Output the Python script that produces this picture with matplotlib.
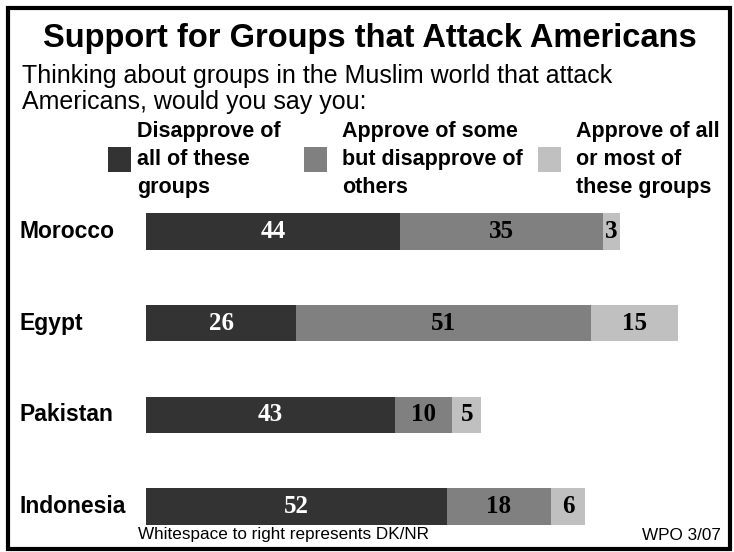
import matplotlib
matplotlib.use("Agg")
import matplotlib.pyplot as plt
from matplotlib.patches import Rectangle

countries = ["Morocco", "Egypt", "Pakistan", "Indonesia"]
disapprove_all = [44, 26, 43, 52]
approve_some = [35, 51, 10, 18]
approve_all = [3, 15, 5, 6]
series_labels = [["Disapprove of", "all of these", "groups"],
                 ["Approve of some", "but disapprove of", "others"],
                 ["Approve of all", "or most of", "these groups"]]
colors = ["#333333", "#808080", "#c0c0c0"]
text_colors = ["white", "black", "black"]

sans = "Liberation Sans"
serif = "Liberation Serif"

W, H = 734, 552
fig = plt.figure(figsize=(W / 100, H / 100), dpi=100)


def fx(px):
    return px / W


def fy(py):
    return 1 - py / H


# border
fig.patches.append(Rectangle((fx(8), fy(549)), fx(730) - fx(8), fy(8) - fy(549),
                             transform=fig.transFigure, fill=False, lw=3, ec="black"))

fig.text(fx(370), fy(38), "Support for Groups that Attack Americans", ha="center", va="center",
         fontsize=23.5, fontweight="bold", family=sans)
fig.text(fx(22), fy(76), "Thinking about groups in the Muslim world that attack", ha="left", va="center",
         fontsize=18, family=sans)
fig.text(fx(22), fy(102), "Americans, would you say you:", ha="left", va="center",
         fontsize=18, family=sans)

# legend
sq_x = [108, 304, 538]
tx_x = [137, 342, 576]
line_y = [132, 159.5, 187]
for i in range(3):
    fig.patches.append(Rectangle((fx(sq_x[i]), fy(172)), fx(23), 25 / H,
                                 transform=fig.transFigure, fc=colors[i], ec="none"))
    for ly, line in zip(line_y, series_labels[i]):
        fig.text(fx(tx_x[i]), fy(ly), line, ha="left", va="center",
                 fontsize=15.5, fontweight="bold", family=sans)

# bars
ax = fig.add_axes([fx(146), fy(552.5), 578 / W, 367 / H])
ax.set_xlim(0, 100)
ax.set_ylim(3.5, -0.5)
ax.axis("off")
ypos = list(range(len(countries)))
left = [0] * len(countries)
for vals, c, tc in zip([disapprove_all, approve_some, approve_all], colors, text_colors):
    ax.barh(ypos, vals, left=left, height=0.40, color=c, edgecolor="none")
    for y, v, l in zip(ypos, vals, left):
        ax.text(l + v / 2, y, str(v), ha="center", va="center", color=tc,
                fontsize=18, fontweight="bold", family=serif)
    left = [a + b for a, b in zip(left, vals)]

for y, name in zip(ypos, countries):
    ax.text(-127 / 5.78, y, name, ha="left", va="center", fontsize=16.5, fontweight="bold", family=sans)

fig.text(fx(138), fy(535), "Whitespace to right represents DK/NR", ha="left", va="center",
         fontsize=12.3, family=sans)
fig.text(fx(721), fy(535), "WPO 3/07", ha="right", va="center", fontsize=12.3, family=sans)

fig.savefig("out.png", dpi=100)
